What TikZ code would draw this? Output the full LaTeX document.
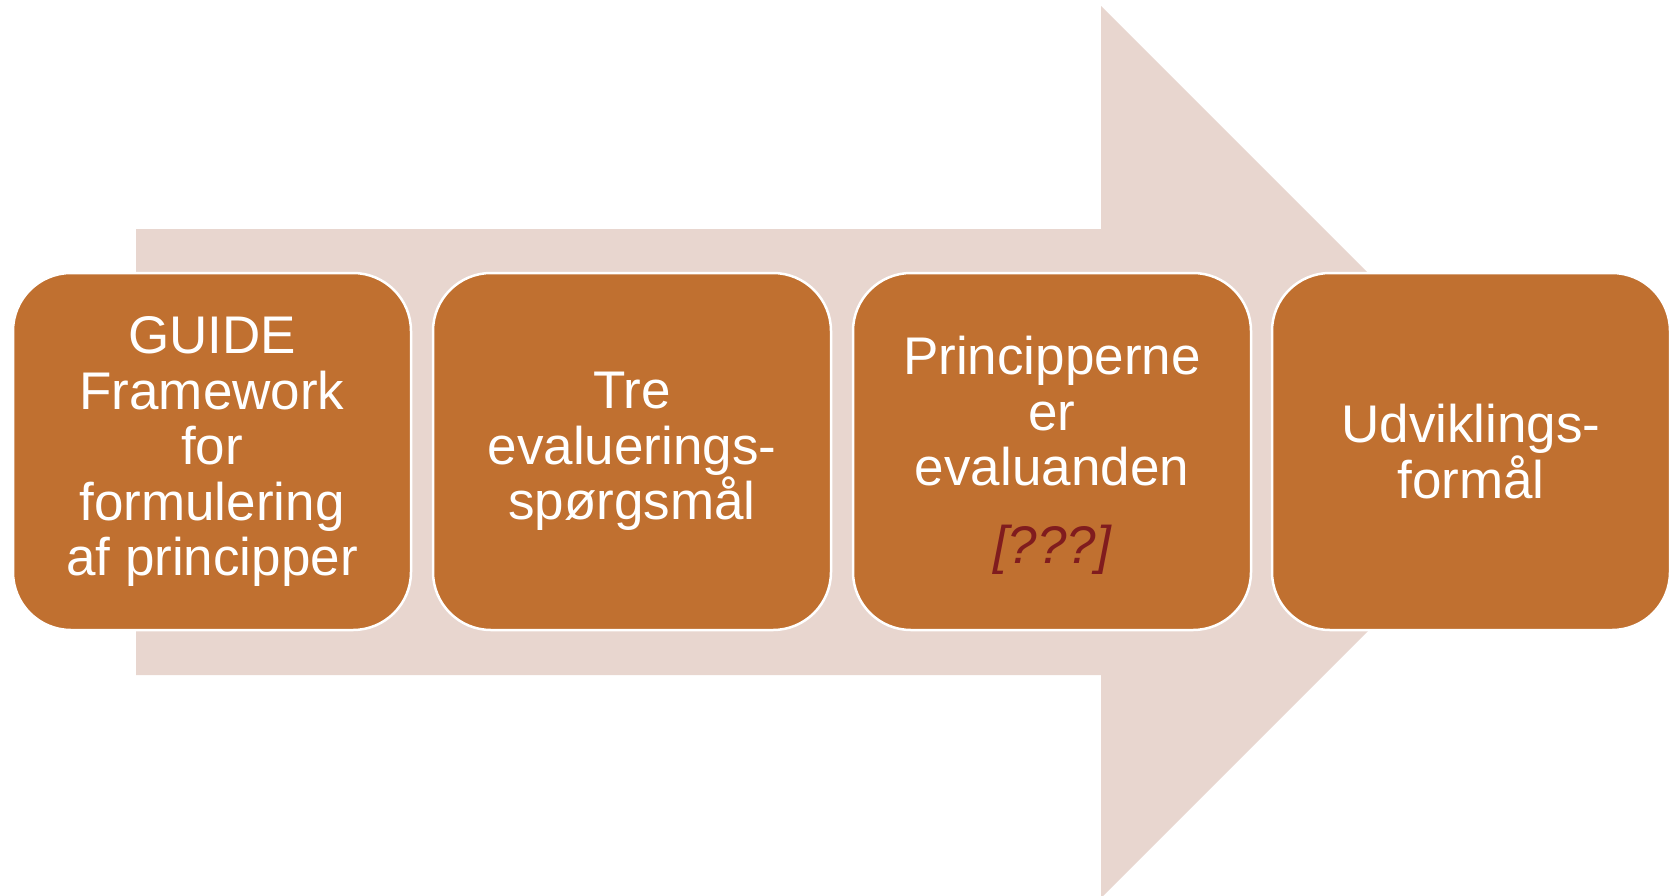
\documentclass[tikz,border=0pt]{standalone}
\usepackage{fontspec}
\setmainfont{Liberation Sans}
\definecolor{boxfill}{RGB}{192,112,48}
\definecolor{arrowfill}{RGB}{232,214,207}
\definecolor{qred}{RGB}{128,28,30}
\begin{document}
\begin{tikzpicture}[x=1pt,y=-1pt,
  boxtext/.style={text=white, align=center, inner sep=0pt, font=\fontsize{53}{55.5}\selectfont},
  stepbox/.style={rectangle, rounded corners=58pt, fill=boxfill, draw=white, line width=2.5pt,
    minimum width=398pt, minimum height=357pt, boxtext}]
\useasboundingbox (0,0) rectangle (1671,895);
\fill[arrowfill] (136,229) -- (1101,229) -- (1101,6) -- (1547,452) -- (1101,898) -- (1101,675) -- (136,675) -- cycle;
\node[stepbox] (b1) at (212,451.5) {GUIDE\\Framework\\for\\formulering\\af principper};
\node[stepbox] (b2) at (632,451.5) {Tre\\evaluerings-\\spørgsmål};
\node[stepbox] (b3) at (1052,451.5) {};
\node[boxtext] (t3) at (1052,455.5) {Principperne\\er\\evaluanden\\[22pt]{\color{qred}\itshape [???]}};
\node[stepbox] (b4) at (1471,451.5) {Udviklings-\\formål};
\end{tikzpicture}
\end{document}
